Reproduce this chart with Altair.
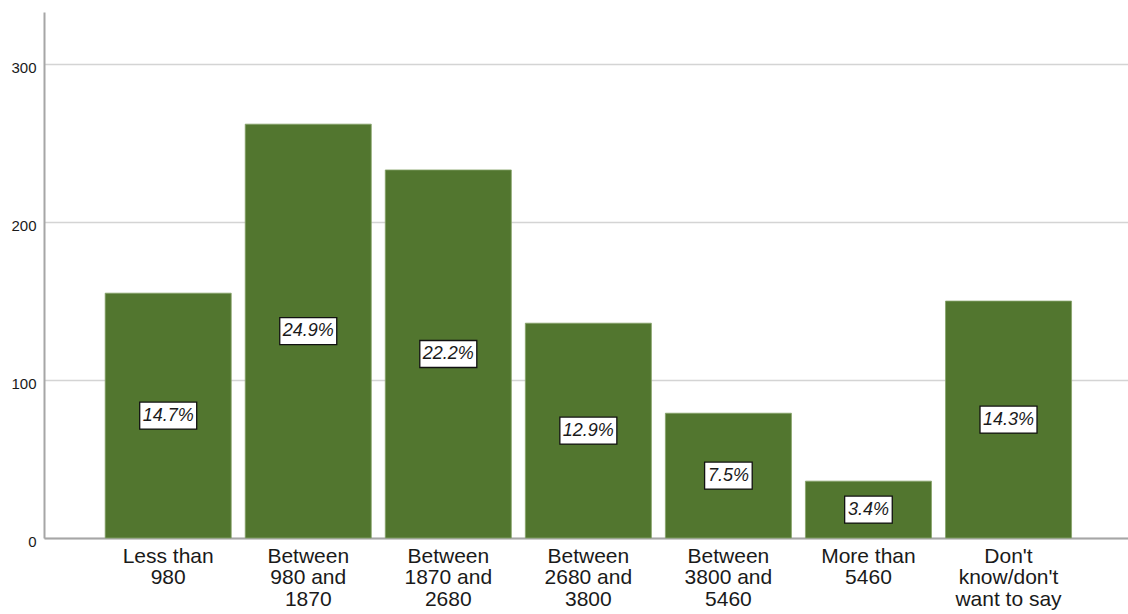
import altair as alt
import pandas as pd

# Monthly income bands (axis labels wrap on "\n")
categories = [
    "Less than\n980",
    "Between\n980 and\n1870",
    "Between\n1870 and\n2680",
    "Between\n2680 and\n3800",
    "Between\n3800 and\n5460",
    "More than\n5460",
    "Don't\nknow/don't\nwant to say",
]
counts = [155, 262, 233, 136, 79, 36, 150]
percent_labels = ["14.7%", "24.9%", "22.2%", "12.9%", "7.5%", "3.4%", "14.3%"]

df = pd.DataFrame({"category": categories, "count": counts, "pct": percent_labels})
df["mid"] = df["count"] / 2
df["box_w"] = df["pct"].str.len() * 9.4 + 10

bar_color = "#52762f"

x = alt.X(
    "category:N",
    sort=categories,
    title=None,
    scale=alt.Scale(paddingInner=0.1, paddingOuter=0.42, align=0.52),
    axis=alt.Axis(
        labelAngle=0,
        labelExpr="split(datum.label, '\\n')",
        labelFontSize=21,
        labelLineHeight=21.5,
        labelFont="Liberation Sans",
        labelColor="#1a1a1a",
        labelPadding=7,
        labelBaseline="top",
        ticks=False,
        domainColor="#a6a6a6",
        domainWidth=2,
        grid=False,
    ),
)

base = alt.Chart(df)

bars = base.mark_bar(color=bar_color, stroke="#86a36a", strokeWidth=0.8).encode(
    x=x,
    y=alt.Y(
        "count:Q",
        title=None,
        scale=alt.Scale(domain=[0, 333], nice=False),
        axis=alt.Axis(
            values=[0, 100, 200, 300],
            labelFontSize=15,
            labelFont="Liberation Sans",
            labelColor="#1a1a1a",
            labelPadding=8,
            labelOffset=3,
            ticks=False,
            domainColor="#a6a6a6",
            domainWidth=2,
            gridColor="#d4d4d4",
            gridWidth=1.5,
        ),
    ),
)

boxes = base.mark_tick(
    fill="white", stroke="#111111", strokeWidth=1.3, thickness=27, opacity=1
).encode(
    x=alt.X("category:N", sort=categories),
    y=alt.Y("mid:Q"),
    size=alt.Size("box_w:Q", scale=None, legend=None),
)

labels = base.mark_text(
    fontSize=18, fontStyle="italic", font="Liberation Sans", color="#1a1a1a",
    baseline="middle", align="center",
).encode(
    x=alt.X("category:N", sort=categories),
    y=alt.Y("mid:Q"),
    text="pct:N",
)

chart = (
    alt.layer(bars, boxes, labels)
    .properties(
        width=1084,
        height=526,
        autosize=alt.AutoSizeParams(type="none"),
        padding={"left": 44, "top": 12, "right": 0, "bottom": 76},
        background="white",
    )
    .configure_view(stroke=None)
    .configure_axis(gridCap="butt")
)

chart.save("out.html", embed_options={"renderer": "svg", "actions": False})
